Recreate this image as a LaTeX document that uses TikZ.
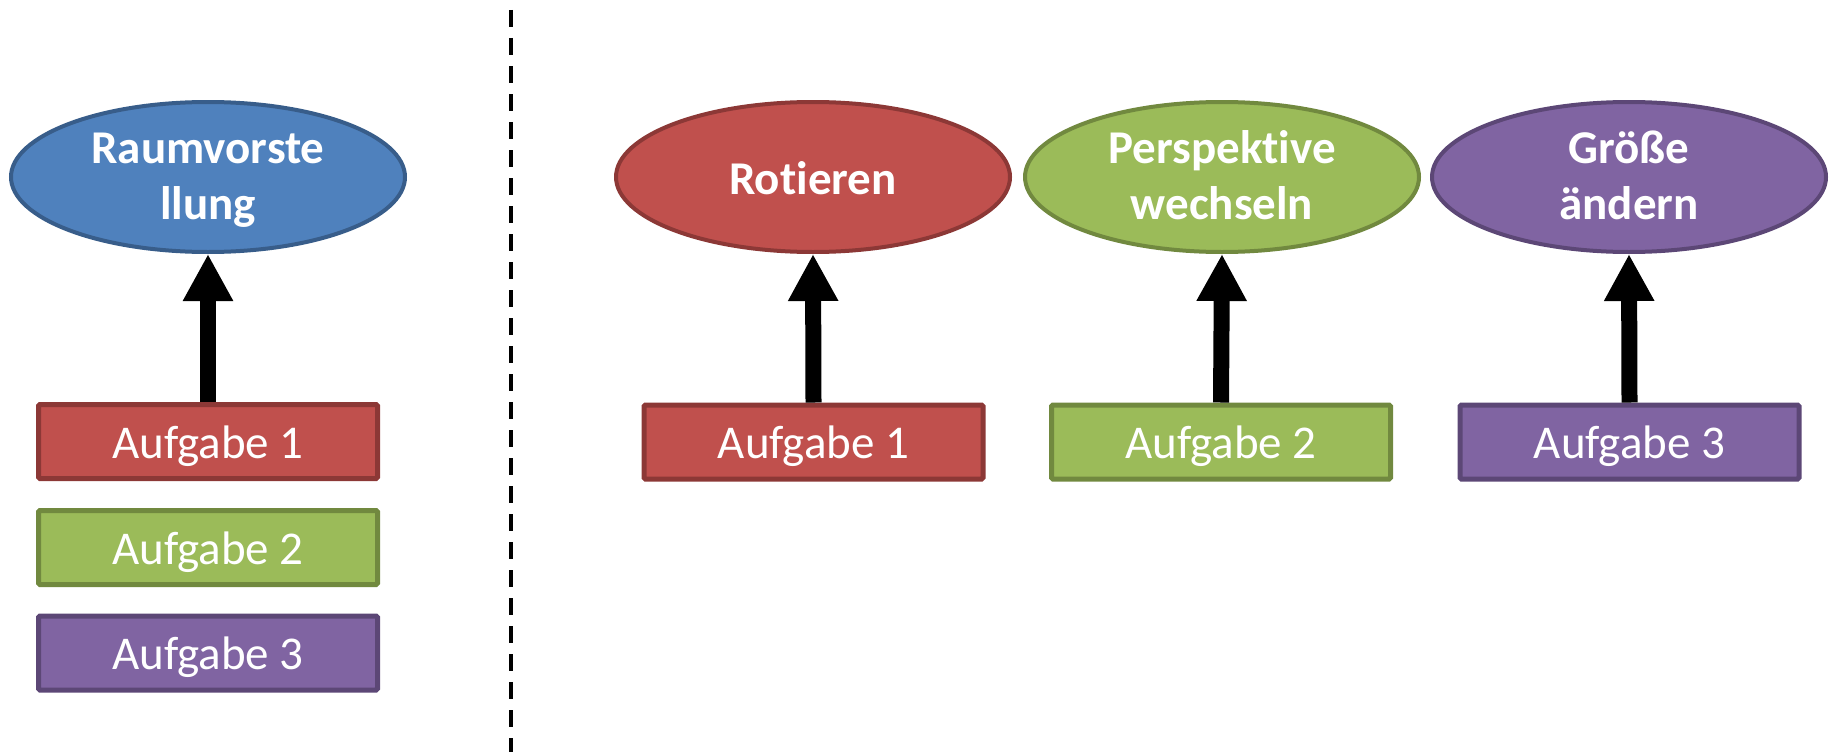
\documentclass[tikz,border=0pt]{standalone}
\usepackage{fontspec}
\setmainfont{Carlito}[Ligatures=NoCommon]
\usetikzlibrary{shapes.geometric,arrows.meta}

\definecolor{blueFill}{HTML}{4F81BD}\definecolor{blueLine}{HTML}{385D8A}
\definecolor{redFill}{HTML}{C0504D}\definecolor{redLine}{HTML}{8C3836}
\definecolor{greenFill}{HTML}{9BBB59}\definecolor{greenLine}{HTML}{71893F}
\definecolor{purpleFill}{HTML}{8064A2}\definecolor{purpleLine}{HTML}{5C4776}

\tikzset{
  goal/.style={ellipse, draw=#1Line, fill=#1Fill, line width=4pt,
    minimum width=394pt, minimum height=150pt, inner sep=0pt},
  goaltext/.style={text=white, inner sep=0pt, align=center,
    font=\fontsize{47}{56}\selectfont\bfseries},
  task/.style={rectangle, draw=#1Line, fill=#1Fill, line width=5pt,
    rounded corners=1.5pt, minimum width=339pt, minimum height=74pt,
    inner sep=0pt, text=white, font=\fontsize{47}{56}\selectfont,
    text height=33pt, text depth=0pt},
  link/.style={line width=16pt, -{Triangle[width=47pt,length=47pt]}},
  divider/.style={line width=4pt, dash pattern=on 17pt off 11pt}
}

\begin{document}
\begin{tikzpicture}[x=1pt,y=-1pt]
\useasboundingbox (0,0) rectangle (1835,752);

% dividing line between the two views
\coordinate (divtop) at (511,10);
\coordinate (divbot) at (511,752);
\draw[divider] (divtop) -- (divbot);

% left: one overall ability fed by all three tasks
\node[goal=blue] (raum) at (208,177) {};
\node[goaltext] (raumT) at (raum.center) {\rule{0pt}{40pt}Raumvorste\\llung\rule[-12pt]{0pt}{12pt}};
\node[task=red] (l1) at (208,441.5) {Aufgabe 1};
\node[task=green] (l2) at (208,547.5) {Aufgabe 2};
\node[task=purple] (l3) at (208,653) {Aufgabe 3};
\draw[link] (l1.north) -- (raum.south);

% right: one sub-ability per task
\node[goal=red] (rot) at (813,177) {};
\node[goaltext, text height=34pt, text depth=0pt] (rotT) at (rot.center) {Rotieren};
\node[goal=green] (persp) at (1222,177) {};
\node[goaltext] (perspT) at (persp.center) {\rule{0pt}{40pt}Perspektive\\wechseln\rule[-12pt]{0pt}{12pt}};
\node[goal=purple] (groesse) at (1629,177) {};
\node[goaltext] (groesseT) at (groesse.center) {\rule{0pt}{40pt}Größe\\ändern\rule[-12pt]{0pt}{12pt}};

\node[task=red] (r1) at (813.5,442) {Aufgabe 1};
\node[task=green] (r2) at (1221,442) {Aufgabe 2};
\node[task=purple] (r3) at (1629.5,442) {Aufgabe 3};

\draw[link] (r1.north) -- (rot.south);
\draw[link] (r2.north) -- (persp.south);
\draw[link] (r3.north) -- (groesse.south);
\end{tikzpicture}
\end{document}
